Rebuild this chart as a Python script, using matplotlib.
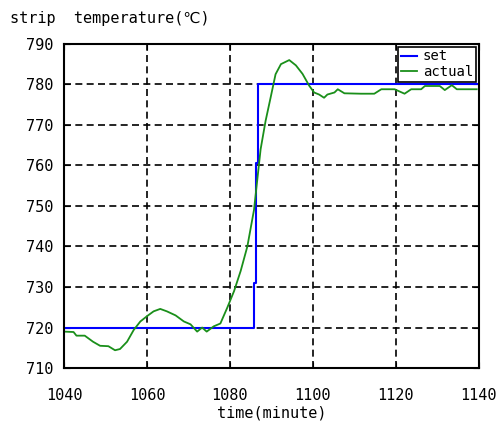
import matplotlib
matplotlib.use("Agg")
import matplotlib.pyplot as plt

plt.rcParams['font.family'] = ['DejaVu Sans Mono', 'DejaVu Sans']

# set point (step change)
set_t = [1040, 1085.8, 1085.8, 1086.2, 1086.2, 1086.7, 1086.7, 1140]
set_v = [720, 720, 731, 731, 760.5, 760.5, 780, 780]

# measured strip temperature
act_t = [1040, 1042.3, 1043, 1045, 1047, 1048.7, 1050.7, 1052.3, 1053.5, 1055.2,
         1056.8, 1058.4, 1060, 1061.6, 1063.2, 1064.8, 1066.9, 1068.9, 1070.5, 1072.1,
         1073.3, 1074.4, 1076.1, 1077.7, 1079.4, 1081, 1082.6, 1084.2, 1085.8, 1086.6,
         1087.4, 1088.6, 1089.8, 1091, 1092.3, 1094.3, 1095.9, 1097.5, 1099.1, 1100.3,
         1101.5, 1102.7, 1103.5, 1105.2, 1106, 1107.6, 1111.6, 1114.8, 1116.5, 1119.7,
         1122.1, 1123.7, 1126.1, 1127, 1130.6, 1131.8, 1133.5, 1134.7, 1139.5]
act_v = [719, 718.9, 718, 718, 716.5, 715.5, 715.4, 714.4, 714.7, 716.5,
         719.4, 721.5, 722.8, 724, 724.6, 724, 723, 721.5, 720.8, 719,
         720, 719, 720.3, 721, 725, 729, 734, 740, 749, 756.5,
         764, 771, 776.7, 782.5, 785, 786, 784.7, 782.6, 779.7, 778,
         777.5, 776.7, 777.5, 778, 778.8, 777.8, 777.7, 777.7, 778.8, 778.8,
         777.7, 778.8, 778.8, 779.6, 779.6, 778.6, 779.8, 778.8, 778.8]

xticks = [1040, 1060, 1080, 1100, 1120, 1140]
yticks = [710, 720, 730, 740, 750, 760, 770, 780, 790]

fig = plt.figure(figsize=(5.04, 4.30), dpi=100)
ax = fig.add_axes([0.127, 0.144, 0.823, 0.754])

ax.plot(set_t, set_v, color='blue', lw=1.5, label='set')
ax.plot(act_t, act_v, color='#1a8f1a', lw=1.3, label='actual')

ax.set_xlim(1040, 1140)
ax.set_ylim(710, 790)
ax.set_xticks(xticks)
ax.set_yticks(yticks)
ax.grid(True, color='black', linestyle=(0, (4.2, 2.6)), linewidth=1.2)
ax.tick_params(direction='in', length=4, labelsize=11, top=True, right=True)
ax.tick_params(axis='x', pad=14)
ax.tick_params(axis='y', pad=8)
for s in ax.spines.values():
    s.set_linewidth(1.5)

ax.set_xlabel('time(minute)', fontsize=11, labelpad=2)
fig.text(0.02, 0.958, 'strip  temperature(℃)', fontsize=11, va='center', ha='left')

leg = ax.legend(loc='upper right', borderaxespad=0.2, handlelength=1.2,
                handletextpad=0.4, fancybox=False, framealpha=1,
                edgecolor='black', fontsize=10, borderpad=0.2, labelspacing=0.1)
leg.get_frame().set_linewidth(1.2)

fig.savefig('out.png', dpi=100)
